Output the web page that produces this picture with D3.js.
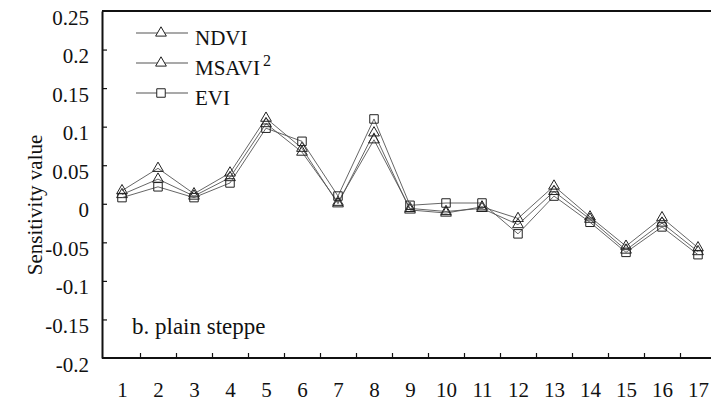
<!DOCTYPE html>
<html>
<head>
<meta charset="utf-8">
<script src="https://cdn.jsdelivr.net/npm/d3@7"></script>
<style>
  body { margin: 0; background: #fff; }
</style>
</head>
<body>
<svg width="711" height="406"></svg>
<script>
// stations 1..17
var categories = [1, 2, 3, 4, 5, 6, 7, 8, 9, 10, 11, 12, 13, 14, 15, 16, 17];
var ndvi  = [0.017, 0.046, 0.013, 0.040, 0.111, 0.072, 0.000, 0.092, -0.008, -0.012, -0.004, -0.019, 0.023, -0.017, -0.055, -0.018, -0.057];
var msavi = [0.012, 0.032, 0.010, 0.034, 0.104, 0.067, 0.002, 0.083, -0.006, -0.010, -0.006, -0.027, 0.016, -0.020, -0.060, -0.025, -0.062];
var evi   = [0.008, 0.022, 0.008, 0.027, 0.098, 0.081, 0.010, 0.110, -0.002, 0.001, 0.001, -0.039, 0.010, -0.024, -0.063, -0.030, -0.066];
var yTicks = [-0.2, -0.15, -0.1, -0.05, 0, 0.05, 0.1, 0.15, 0.2, 0.25];
var yTickLabels = ["-0.2", "-0.15", "-0.1", "-0.05", "0", "0.05", "0.1", "0.15", "0.2", "0.25"];

var series = [
  {name: "NDVI", values: ndvi, symbol: d3.symbolTriangle, size: 50},
  {name: "MSAVI", values: msavi, symbol: d3.symbolTriangle, size: 50},
  {name: "EVI", values: evi, symbol: d3.symbolSquare, size: 72}
];

var FONT = "Liberation Serif";

var svg = d3.select("svg"),
    plotLeft = 102, plotRight = 711, plotTop = 11, plotBottom = 358;

var x = d3.scaleLinear().domain([1, 17]).range([122, 698]),
    y = d3.scaleLinear().domain([-0.2, 0.25]).range([plotBottom, plotTop]);

// frame: top line only, no right border
svg.append("line")
    .attr("x1", plotLeft).attr("x2", plotRight)
    .attr("y1", y(0.25)).attr("y2", y(0.25))
    .attr("stroke", "#111").attr("stroke-width", 2);

// y axis
var yAxis = svg.append("g")
    .attr("transform", "translate(" + plotLeft + ",0)")
    .call(d3.axisLeft(y).tickValues(yTicks).tickSize(-5).tickSizeOuter(0).tickPadding(13)
      .tickFormat(function(d, i) { return yTickLabels[i]; }));
yAxis.select(".domain").attr("stroke", "#111").attr("stroke-width", 2);
yAxis.selectAll(".tick line").attr("stroke", "#111").attr("stroke-width", 1.2)
    .filter(function(d) { return d === 0.25 || d === -0.2; }).remove();
yAxis.selectAll(".tick text")
    .attr("font-family", FONT)
    .attr("font-size", 21)
    .attr("dy", "0.62em")
    .attr("fill", "#111");

// x axis: ticks between categories
var xAxis = svg.append("g")
    .attr("transform", "translate(0," + plotBottom + ")")
    .call(d3.axisBottom(x).tickValues(categories.slice(1).map(function(c) { return c - 0.5; }))
      .tickSize(-5).tickSizeOuter(0).tickFormat(""));
xAxis.select(".domain").attr("d", "M" + plotLeft + ",0H" + plotRight).attr("stroke", "#111").attr("stroke-width", 2);
xAxis.selectAll(".tick line").attr("stroke", "#111").attr("stroke-width", 1.2);

var xLabels = svg.append("g")
    .attr("transform", "translate(0," + plotBottom + ")")
    .call(d3.axisBottom(x).tickValues(categories).tickSize(0).tickPadding(24).tickFormat(d3.format("d")));
xLabels.select(".domain").remove();
xLabels.selectAll(".tick text")
    .attr("font-family", FONT)
    .attr("font-size", 21)
    .attr("fill", "#111");

// y axis title
svg.append("text")
    .attr("transform", "translate(42,205) rotate(-90)")
    .attr("text-anchor", "middle")
    .attr("font-family", FONT)
    .attr("font-size", 21)
    .attr("fill", "#111")
    .text("Sensitivity value");

// panel label
svg.append("text")
    .attr("x", 132).attr("y", 334)
    .attr("font-family", FONT)
    .attr("font-size", 23)
    .attr("fill", "#111")
    .text("b. plain steppe");

var line = d3.line()
    .x(function(d, i) { return x(categories[i]); })
    .y(function(d) { return y(d); });

var g = svg.selectAll(".series")
  .data(series)
  .enter().append("g")
    .attr("class", "series");

g.append("path")
    .attr("d", function(d) { return line(d.values); })
    .attr("fill", "none")
    .attr("stroke", "#555")
    .attr("stroke-width", 0.9);

g.each(function(s) {
  d3.select(this).selectAll("path.pt")
    .data(s.values)
    .enter().append("path")
      .attr("class", "pt")
      .attr("transform", function(d, i) { return "translate(" + x(categories[i]) + "," + y(d) + ")"; })
      .attr("d", d3.symbol().type(s.symbol).size(s.size))
      .attr("fill", "none")
      .attr("stroke", "#222")
      .attr("stroke-width", 1);
});

// legend
var legend = svg.selectAll(".legend")
  .data(series)
  .enter().append("g")
    .attr("class", "legend")
    .attr("transform", function(d, i) { return "translate(136," + (33 + i * 30) + ")"; });

legend.append("line")
    .attr("x1", 0).attr("x2", 52)
    .attr("stroke", "#555").attr("stroke-width", 1.2);

legend.append("path")
    .attr("transform", "translate(25,0)")
    .attr("d", function(d) { return d3.symbol().type(d.symbol).size(d.size)(); })
    .attr("fill", "#fff")
    .attr("stroke", "#222");

var lt = legend.append("text")
    .attr("x", 59).attr("y", 12)
    .attr("font-family", FONT)
    .attr("font-size", 21)
    .attr("fill", "#111");
lt.append("tspan").text(function(d) { return d.name; });
lt.filter(function(d) { return d.name === "MSAVI"; })
  .append("tspan")
    .attr("dx", 3).attr("dy", -9)
    .attr("font-size", 16)
    .text("2");
</script>
</body>
</html>
